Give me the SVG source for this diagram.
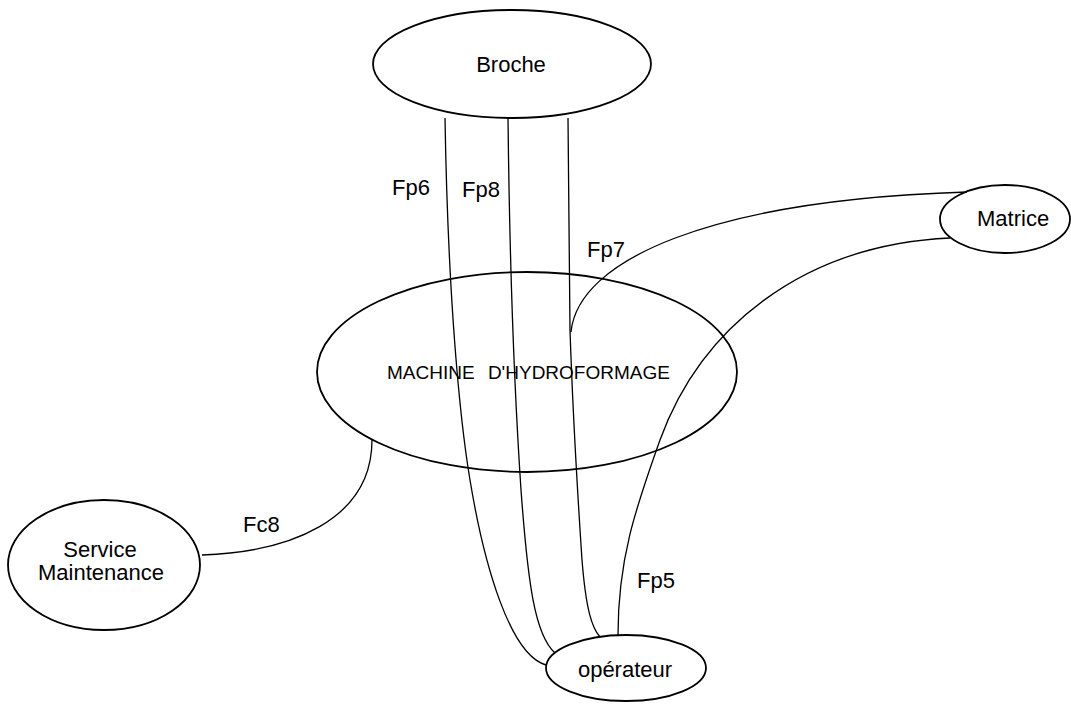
<svg xmlns="http://www.w3.org/2000/svg" width="1071" height="704" viewBox="0 0 1071 704">
  <style>
    .node { fill: none; stroke: #000; stroke-width: 1.8; }
    .link { fill: none; stroke: #000; stroke-width: 1.3; }
    .lbl { font-family: "Liberation Sans", Arial, sans-serif; font-size: 22px; fill: #000; }
    .big { font-family: "Liberation Sans", Arial, sans-serif; font-size: 19px; fill: #000; }
  </style>
  <rect x="0" y="0" width="1071" height="704" fill="#fff"/>

  <!-- connectors -->
  <g id="connectors">
    <!-- Fp6 -->
    <path class="link" d="M 445 118 C 448 300, 460 420, 470 480 C 484 565, 510 655, 546 665"/>
    <!-- Fp8 -->
    <path class="link" d="M 508 118 C 510 300, 517 430, 521 490 C 528 585, 535 635, 555 653"/>
    <!-- third Broche line -->
    <path class="link" d="M 568 118 L 570 330 C 573 420, 578 500, 582 560 C 586 610, 592 628, 600 637"/>
    <!-- Fp7 -->
    <path class="link" d="M 571 332 C 578 260, 710 200, 967 192"/>
    <!-- Fp5 -->
    <path class="link" d="M 950 238 C 800 245, 700 330, 660 440 C 635 510, 618 560, 618 635"/>
    <!-- Fc8 -->
    <path class="link" d="M 202 555 C 290 552, 372 520, 372 440"/>
    <text class="lbl" x="392" y="195">Fp6</text>
    <text class="lbl" x="462" y="197">Fp8</text>
    <text class="lbl" x="587" y="257">Fp7</text>
    <text class="lbl" x="637" y="588">Fp5</text>
    <text class="lbl" x="243" y="532">Fc8</text>
  </g>

  <g id="broche">
    <ellipse class="node" cx="512" cy="64" rx="139" ry="54"/>
    <text class="lbl" x="511" y="72" text-anchor="middle">Broche</text>
  </g>

  <g id="machine">
    <ellipse class="node" cx="527" cy="372" rx="210" ry="100"/>
    <text class="big" x="387" y="379" word-spacing="8">MACHINE D'HYDROFORMAGE</text>
  </g>

  <g id="matrice">
    <ellipse class="node" cx="1005" cy="219" rx="65" ry="34"/>
    <text class="lbl" x="977" y="226">Matrice</text>
  </g>

  <g id="service">
    <ellipse class="node" cx="104" cy="565" rx="96" ry="65"/>
    <text class="lbl" x="100" y="557" text-anchor="middle">Service</text>
    <text class="lbl" x="101" y="580" text-anchor="middle">Maintenance</text>
  </g>

  <g id="operateur">
    <ellipse class="node" cx="626" cy="668" rx="80" ry="33"/>
    <text class="lbl" x="625" y="677" text-anchor="middle">opérateur</text>
  </g>
</svg>
